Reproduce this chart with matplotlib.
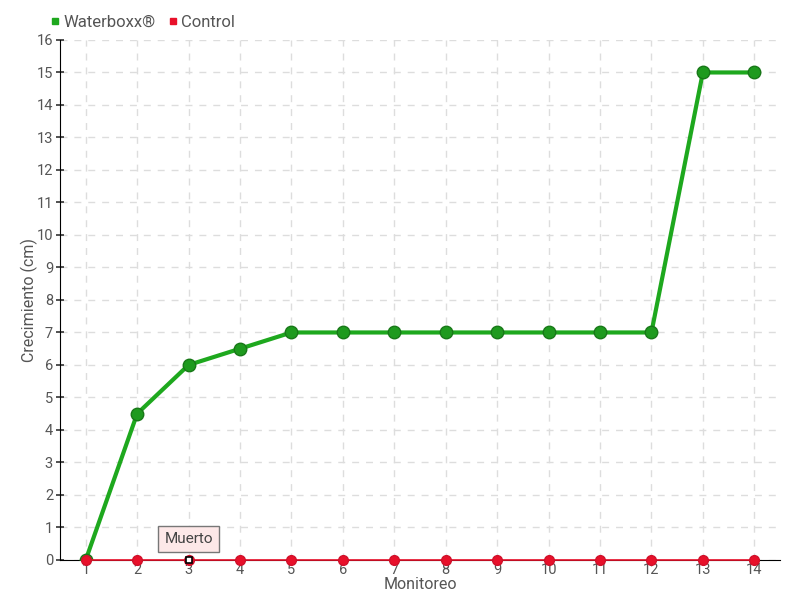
import matplotlib
matplotlib.use("Agg")
import matplotlib.pyplot as plt
from matplotlib.lines import Line2D

monitoreo = list(range(1, 15))
waterboxx = [0, 4.5, 6, 6.5, 7, 7, 7, 7, 7, 7, 7, 7, 15, 15]
control = [0] * 14
yticks = list(range(0, 17))

plt.rcParams['font.family'] = ['Roboto', 'DejaVu Sans']

fig = plt.figure(figsize=(8, 6), dpi=100)
ax = fig.add_axes([0.075, 0.0667, 0.9, 0.8667])

txt = '#555555'
ax.plot(monitoreo, waterboxx, color='#1ea81e', lw=3, marker='o', ms=9,
        mfc='#1e9a1e', mec='#187818', mew=1, zorder=3, label='Waterboxx®')
ax.plot(monitoreo, control, color='#e8102a', lw=1.2, marker='o', ms=7,
        mfc='#e8102a', mec='#d0102a', zorder=4, label='Control', clip_on=False)
ax.plot([3], [0], marker='s', ms=5, mfc='white', mec='black', mew=1.2, zorder=5, clip_on=False)

ax.annotate('Muerto', xy=(3, 0), xytext=(3, 0.65), ha='center', va='center',
            fontsize=11, color='#444444',
            bbox=dict(boxstyle='square,pad=0.4', fc='#fde8e8', ec='#777777', lw=1))

ax.set_xlim(0.5, 14.5)
ax.set_ylim(0, 16)
ax.set_xticks(monitoreo)
ax.set_yticks(yticks)
ax.tick_params(axis='both', labelsize=10.5, labelcolor=txt)
ax.tick_params(axis='y', direction='inout', length=6, width=1.2, color='#333333', pad=2)
ax.tick_params(axis='x', length=0, pad=2)
ax.grid(True, color='#dddddd', ls=(0, (5, 5)), lw=1)
ax.set_axisbelow(True)
for s in ['top', 'right']:
    ax.spines[s].set_visible(False)
ax.spines['left'].set_color('black')
ax.spines['bottom'].set_color('black')
ax.set_xlabel('Monitoreo', fontsize=11.5, color=txt, labelpad=0)
ax.set_ylabel('Crecimiento (cm)', fontsize=11.5, color=txt, labelpad=-1)

handles = [Line2D([], [], ls='none', marker='s', ms=5, color='#1ea81e'),
           Line2D([], [], ls='none', marker='s', ms=5, color='#e8102a')]
fig.legend(handles, ['Waterboxx®', 'Control'], loc='upper left', bbox_to_anchor=(0.042, 1.0),
           ncol=2, frameon=False, fontsize=12, handletextpad=0.1, columnspacing=0.6,
           handlelength=0.8, labelcolor=txt)

fig.savefig('out.png', dpi=100)
